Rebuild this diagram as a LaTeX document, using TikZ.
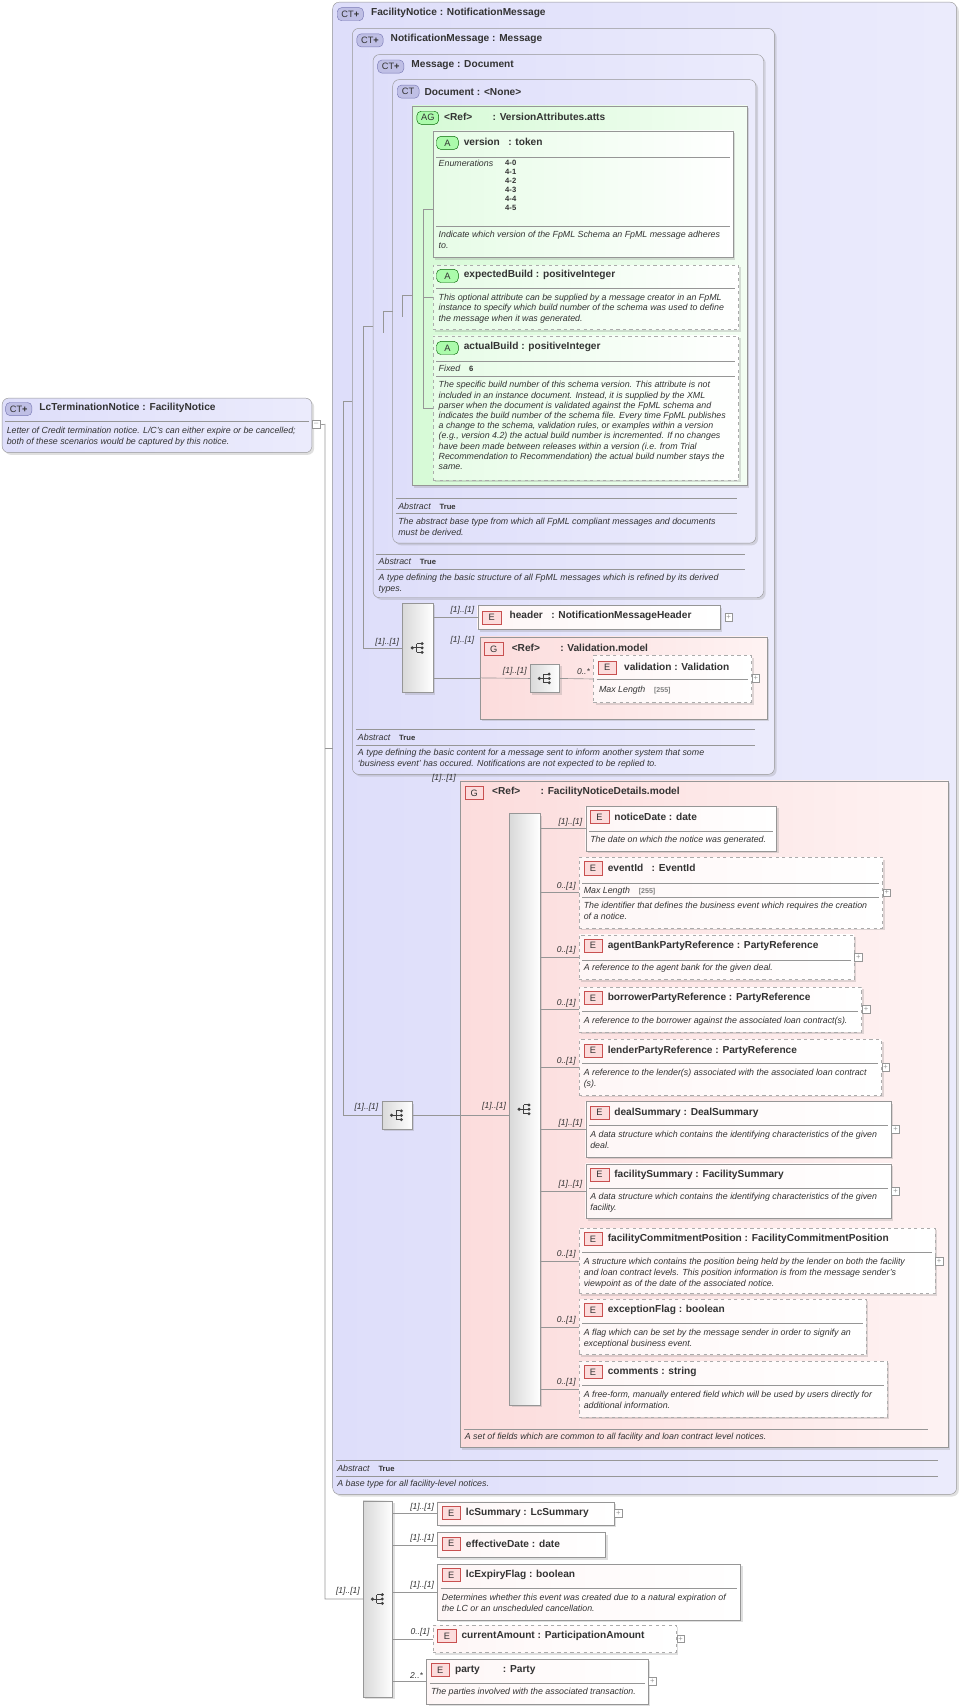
\documentclass[tikz,border=0pt]{standalone}
\usepackage{fontspec}
\setmainfont{Liberation Sans}
\usetikzlibrary{shadows}
\definecolor{lav}{RGB}{222,222,250}
\definecolor{lavd}{RGB}{120,120,180}
\definecolor{grn}{RGB}{214,250,214}
\definecolor{pnk}{RGB}{252,220,220}
\definecolor{pnkd}{RGB}{200,80,80}
\definecolor{ln}{RGB}{150,150,150}
\tikzset{
 base/.style={anchor=north west,inner sep=0pt,outer sep=0pt},
 ct/.style={base,draw=ln,rounded corners=6pt,left color=lav,right color=lav!60!white,drop shadow={opacity=.25,shadow xshift=2pt,shadow yshift=-2pt}},
 ag/.style={base,draw=ln,left color=grn,right color=grn!30!white,drop shadow={opacity=.25,shadow xshift=2pt,shadow yshift=-2pt}},
 gg/.style={base,draw=ln,left color=pnk,right color=pnk!35!white,drop shadow={opacity=.25,shadow xshift=2pt,shadow yshift=-2pt}},
 el/.style={base,draw=ln,left color=pnk!25!white,right color=white,drop shadow={opacity=.25,shadow xshift=2pt,shadow yshift=-2pt}},
 eld/.style={el,dashed,draw=ln!80},
 atb/.style={base,draw=ln,left color=grn!60!white,right color=white,drop shadow={opacity=.25,shadow xshift=2pt,shadow yshift=-2pt}},
 atd/.style={atb,dashed,draw=ln!80},
 sq/.style={base,draw=ln,left color=gray!30,right color=white,drop shadow={opacity=.25,shadow xshift=2pt,shadow yshift=-2pt}},
 ttl/.style={anchor=west,inner sep=0pt,font=\fontsize{9.3}{10}\selectfont\bfseries,text=black!80},
 dsc/.style={anchor=north west,inner sep=0pt,align=left,font=\fontsize{8.1}{10}\selectfont\itshape,text=black!80},
 dd/.style={dsc,yshift=-2pt},
 tru/.style={dsc,anchor=west},
 mul/.style={anchor=south east,inner sep=1pt,font=\fontsize{7.8}{8}\selectfont\itshape,text=black!80},
 con/.style={draw=ln,line width=.6pt},
 sep/.style={draw=ln,line width=.5pt},
 bdg/.style={anchor=west,inner sep=1pt,minimum height=12pt,minimum width=18pt,font=\fontsize{8.5}{9}\selectfont,text=black!80},
 pls/.style={draw=ln,fill=white,minimum size=7pt,inner sep=0pt,font=\fontsize{7}{7}\selectfont,text=ln},
}
\newcommand\TT{\quad\upshape\bfseries\fontsize{7}{8}\selectfont True}
\newcommand\bx[6]{\node[#6,minimum width={(#4-#2)*1pt},minimum height={(#5-#3)*1pt}] (#1) at (#2,#3) {};}
\newcommand\ctb[3]{\node[bdg,draw=lavd,fill=lav!70!lavd,rounded corners=4pt,minimum width=24pt] (#1) at (#2,#3) {CT\textbf{+}};}
\newcommand\eb[3]{\node[bdg,draw=pnkd,fill=pnk,minimum width=17pt] (#1) at ({#2},{#3}) {E};}
\newcommand\ab[3]{\node[bdg,draw=green!40!black,fill=grn!80!green,rounded corners=4pt,minimum width=20pt] (#1) at (#2,#3) {A};}
\newcommand\plus[3]{\node[pls] (#1) at ({#2},{#3}) {+};}
\newcommand\seqi[1]{%
 \fill[black!75] ([xshift=-5pt]#1.center) circle (1.6pt);
 \draw[black!75,line width=.8pt] ([xshift=-5pt]#1.center) -- ([xshift=-1pt]#1.center)
  ([xshift=-1pt,yshift=-4pt]#1.center) -- ([xshift=-1pt,yshift=4pt]#1.center)
  ([xshift=-1pt,yshift=-4pt]#1.center) -- ([xshift=3pt,yshift=-4pt]#1.center)
  ([xshift=-1pt]#1.center) -- ([xshift=3pt]#1.center)
  ([xshift=-1pt,yshift=4pt]#1.center) -- ([xshift=3pt,yshift=4pt]#1.center);
 \foreach \d in {-4,0,4}{\fill[black!75] ([xshift=4pt,yshift=\d pt]#1.center) circle (1.5pt);}}
\begin{document}
\begin{tikzpicture}[x=1pt,y=-1pt]
\useasboundingbox (0,0) rectangle (880,1565);
% ---------- LcTerminationNotice
\bx{lc}{2}{365}{286}{415}{ct}
\ctb{lcb}{5}{375}
\node[ttl] (lct) at (36,374) {LcTerminationNotice : FacilityNotice};
\draw[sep] (5,386) -- (283,386);
\node[dd] (lcd) at (6,389) {Letter of Credit termination notice. L/C's can either expire or be cancelled;\\both of these scenarios would be captured by this notice.};
% ---------- FacilityNotice
\bx{fn}{305}{2}{877}{1370}{ct}
\ctb{fnb}{309}{13}
\node[ttl] (fnt) at (340,12) {FacilityNotice : NotificationMessage};
\draw[sep] (308,1339) -- (860,1339) (308,1353) -- (860,1353);
\node[tru] (fna) at (309,1346) {Abstract\TT};
\node[dd] (fnd1) at (309,1355) {A base type for all facility-level notices.};
% NotificationMessage
\bx{nm}{323}{26}{710}{710}{ct}
\ctb{nmb}{327}{37}
\node[ttl] (nmt) at (358,36) {NotificationMessage : Message};
\draw[sep] (326,669) -- (692,669) (326,683) -- (692,683);
\node[tru] (nma) at (328,676) {Abstract\TT};
\node[dd] (nmd) at (328,685) {A type defining the basic content for a message sent to inform another system that some\\`business event' has occured. Notifications are not expected to be replied to.};
% Message
\bx{ms}{342}{50}{700}{548}{ct}
\ctb{msb}{346}{61}
\node[ttl] (mst) at (377,60) {Message : Document};
\draw[sep] (345,508) -- (683,508) (345,522) -- (683,522);
\node[tru] (msa) at (347,515) {Abstract\TT};
\node[dd] (msd) at (347,524) {A type defining the basic structure of all FpML messages which is refined by its derived\\types.};
% Document
\bx{dc}{360}{73}{693}{498}{ct}
\node[bdg,draw=lavd,fill=lav!70!lavd,rounded corners=4pt,minimum width=20pt] (dcb) at (364,84) {CT};
\node[ttl] (dct) at (389,84) {Document : <None>};
\draw[sep] (363,457) -- (676,457) (363,471) -- (676,471);
\node[tru] (dca) at (365,464) {Abstract\TT};
\node[dd] (dcd) at (365,473) {The abstract base type from which all FpML compliant messages and documents\\must be derived.};
% AG
\bx{ag}{378}{97}{685}{445}{ag}
\node[bdg,draw=green!40!black,fill=grn!80!green,rounded corners=4pt,minimum width=20pt] (agb) at (382,108) {AG};
\node[ttl] (agt) at (407,107) {<Ref>\qquad : VersionAttributes.atts};
% version
\bx{ver}{397}{120}{672}{236}{atb}
\ab{verb}{400}{131}
\node[ttl] (vert) at (425,130) {version ~ : token};
\draw[sep] (400,144) -- (669,144) (400,207) -- (669,207);
\node[dsc,anchor=north west] (vere) at (402,147) {Enumerations};
\node[inner sep=0pt,anchor=north west,align=left,font=\fontsize{7}{8.2}\selectfont\bfseries,text=black!80] (verv) at (463,147) {4-0\\4-1\\4-2\\4-3\\4-4\\4-5};
\node[dd] (verd) at (402,210) {Indicate which version of the FpML Schema an FpML message adheres\\to.};
% expectedBuild
\bx{ebx}{397}{243}{677}{302}{atd}
\ab{ebxb}{400}{253}
\node[ttl] (ebxt) at (425,252) {expectedBuild : positiveInteger};
\draw[sep] (400,264) -- (674,264);
\node[dd] (ebxd) at (402,267) {This optional attribute can be supplied by a message creator in an FpML\\instance to specify which build number of the schema was used to define\\the message when it was generated.};
% actualBuild
\bx{abx}{397}{308}{677}{440}{atd}
\ab{abxb}{400}{319}
\node[ttl] (abxt) at (425,318) {actualBuild : positiveInteger};
\draw[sep] (400,331) -- (674,331) (400,345) -- (674,345);
\node[tru] (abxf) at (402,338) {Fixed\quad\upshape\bfseries\fontsize{7}{8}\selectfont 6};
\node[dd,font=\fontsize{8.1}{9.35}\selectfont\itshape] (abxd) at (402,347.5) {The specific build number of this schema version. This attribute is not\\included in an instance document. Instead, it is supplied by the XML\\parser when the document is validated against the FpML schema and\\indicates the build number of the schema file. Every time FpML publishes\\a change to the schema, validation rules, or examples within a version\\(e.g., version 4.2) the actual build number is incremented. If no changes\\have been made between releases within a version (i.e. from Trial\\Recommendation to Recommendation) the actual build number stays the\\same.};
% AG connectors
\coordinate (agj) at (388,192);
\draw[con] (ver.west |- agj) -- (agj) -- (agj |- abx.west) -- (abx.west);
\draw[con] (agj |- ebx.west) -- (ebx.west);
\draw[con] (ag.west) -- ++(-9,0) -- ++(0,20);
\draw[con] (dc.west) -- ++(-9,0) -- ++(0,20);
\draw[con] (ms.west) -- ++(-9,0);
% NotificationMessage sequence
\bx{sqN}{369}{553}{397}{635}{sq}
\seqi{sqN}
\draw[con] (ms.west) ++(-9,0) |- (sqN.west);
\node[mul] (mN) at (367,594) {[1]..[1]};
\bx{hd}{438}{555}{660}{577}{el}
\eb{hdb}{442}{566}
\node[ttl] (hdt) at (467,565) {header ~ : NotificationMessageHeader};
\plus{hdp}{668}{566}
\draw[con] (sqN.east |- hd.west) -- (hd.west);
\node[mul] (mhd) at (436,564) {[1]..[1]};
\bx{vm}{440}{584}{703}{659}{gg}
\node[ttl] (vmt) at (469,594) {<Ref>\qquad : Validation.model};
\draw[con] (sqN.east |- vm.west) -- (vm.west);
\node[mul] (mvm) at (436,592) {[1]..[1]};
\node[bdg,draw=pnkd,fill=pnk,minimum width=17pt] (vmb) at (444,595) {G};
\bx{sqV}{486}{609}{513}{635}{sq}
\seqi{sqV}
\draw[con] (vm.west) -- (sqV.west);
\node[mul] (msV) at (484,620) {[1]..[1]};
\bx{vl}{544}{601}{689}{644}{eld}
\eb{vlb}{548}{612}
\node[ttl] (vlt) at (572,611) {validation : Validation};
\draw[sep] (547,623) -- (686,623);
\node[tru] (vlm) at (549,633) {Max Length\quad\upshape\bfseries\fontsize{6.5}{8}\selectfont\color{gray}[255]};
\plus{vlp}{693}{622}
\draw[con] (sqV.east) -- (vl.west);
\node[mul] (mvl) at (542,620) {0..*};
% FacilityNotice sequence
\bx{sqF}{350}{1010}{378}{1035}{sq}
\seqi{sqF}
\draw[con] (nm.west) -- ++(-8,0) |- (sqF.west);
\node[mul] (mF) at (348,1020) {[1]..[1]};
% FacilityNoticeDetails
\bx{fd}{422}{716}{869}{1327}{gg}
\node[bdg,draw=pnkd,fill=pnk,minimum width=17pt] (fdb) at (426,727) {G};
\node[ttl] (fdt) at (451,726) {<Ref>\qquad : FacilityNoticeDetails.model};
\node[mul] (mfd) at (419,718) {[1]..[1]};
\draw[sep] (425,1310) -- (851,1310);
\node[dd] (fdd) at (426,1312) {A set of fields which are common to all facility and loan contract level notices.};
\bx{sqD}{467}{746}{495}{1288}{sq}
\seqi{sqD}
\draw[con] (sqF.east) -- (sqD.west |- sqF.east);
\node[mul] (mD) at (465,1019) {[1]..[1]};
% elements in FacilityNoticeDetails
\newcommand\elm[9]{% name,x1,y1,x2,y2,style,title,mult,plus?
 \bx{#1}{#2}{#3}{#4}{#5}{#6}
 \eb{#1b}{#2+4}{#3+10}
 \node[ttl] (#1t) at ({#2+26},{#3+10}) {#7};
 \draw[con] (sqD.east |- #1.west) -- (#1.west);
 \node[mul] (#1m) at ({#2-2},{(#3+#5)/2-1}) {#8};
 \ifx#9y\plus{#1p}{#4+4}{(#3+#5)/2}\fi}
\elm{nd}{537}{739}{712}{780}{el}{noticeDate : date}{[1]..[1]}{n}
\draw[sep] (540,762) -- (709,762);
\node[dd] at (541,764) {The date on which the notice was generated.};
\elm{ev}{531}{786}{809}{851}{eld}{eventId ~ : EventId}{0..[1]}{y}
\draw[sep] (534,810) -- (806,810) (534,823) -- (806,823);
\node[tru] at (535,817) {Max Length\quad\upshape\bfseries\fontsize{6.5}{8}\selectfont\color{gray}[255]};
\node[dd] at (535,825) {The identifier that defines the business event which requires the creation\\of a notice.};
\elm{ag2}{531}{857}{783}{898}{eld}{agentBankPartyReference : PartyReference}{0..[1]}{y}
\draw[sep] (534,880) -- (780,880);
\node[dd] at (535,882) {A reference to the agent bank for the given deal.};
\elm{bp}{531}{905}{790}{946}{eld}{borrowerPartyReference : PartyReference}{0..[1]}{y}
\draw[sep] (534,927) -- (787,927);
\node[dd] at (535,930) {A reference to the borrower against the associated loan contract(s).};
\elm{lp}{531}{953}{808}{1004}{eld}{lenderPartyReference : PartyReference}{0..[1]}{y}
\draw[sep] (534,975) -- (805,975);
\node[dd] at (535,978) {A reference to the lender(s) associated with the associated loan contract\\(s).};
\elm{ds}{537}{1010}{817}{1061}{el}{dealSummary : DealSummary}{[1]..[1]}{y}
\draw[sep] (540,1032) -- (814,1032);
\node[dd] at (541,1035) {A data structure which contains the identifying characteristics of the given\\deal.};
\elm{fs}{537}{1067}{817}{1117}{el}{facilitySummary : FacilitySummary}{[1]..[1]}{y}
\draw[sep] (540,1089) -- (814,1089);
\node[dd] at (541,1092) {A data structure which contains the identifying characteristics of the given\\facility.};
\elm{fc}{531}{1126}{857}{1186}{eld}{facilityCommitmentPosition : FacilityCommitmentPosition}{0..[1]}{y}
\draw[sep] (534,1148) -- (854,1148);
\node[dd] at (535,1151) {A structure which contains the position being held by the lender on both the facility\\and loan contract levels. This position information is from the message sender's\\viewpoint as of the date of the associated notice.};
\elm{ef}{531}{1191}{794}{1242}{eld}{exceptionFlag : boolean}{0..[1]}{n}
\draw[sep] (534,1213) -- (791,1213);
\node[dd] at (535,1216) {A flag which can be set by the message sender in order to signify an\\exceptional business event.};
\elm{cm}{531}{1248}{813}{1299}{eld}{comments : string}{0..[1]}{n}
\draw[sep] (534,1270) -- (810,1270);
\node[dd] at (535,1273) {A free-form, manually entered field which will be used by users directly for\\additional information.};
% ---------- bottom sequence
\bx{sqB}{333}{1376}{360}{1556}{sq}
\seqi{sqB}
\coordinate (j0) at (298,389);
\draw[con] (lc.east) -- (j0) -- (j0 |- sqB.west) -- (sqB.west);
\draw[con] (j0 |- fn.west) -- (fn.west);
\node[pls] (lcp) at (290,389) {--};
\node[mul] (mB) at (331,1464) {[1]..[1]};
\renewcommand\elm[9]{%
 \bx{#1}{#2}{#3}{#4}{#5}{#6}
 \eb{#1b}{#2+4}{#3+10}
 \node[ttl] (#1t) at ({#2+26},{#3+10}) {#7};
 \draw[con] (sqB.east |- #1.west) -- (#1.west);
 \node[mul] (#1m) at ({#2-2},{(#3+#5)/2-1}) {#8};
 \ifx#9y\plus{#1p}{#4+4}{(#3+#5)/2}\fi}
\elm{ls}{401}{1377}{563}{1398}{el}{lcSummary : LcSummary}{[1]..[1]}{y}
\elm{ed}{401}{1405}{555}{1428}{el}{effectiveDate : date}{[1]..[1]}{n}
\elm{lx}{401}{1434}{679}{1485}{el}{lcExpiryFlag : boolean}{[1]..[1]}{n}
\draw[sep] (404,1456) -- (676,1456);
\node[dd] at (405,1459) {Determines whether this event was created due to a natural expiration of\\the LC or an unscheduled cancellation.};
\elm{ca}{397}{1490}{620}{1515}{eld}{currentAmount : ParticipationAmount}{0..[1]}{y}
\elm{pt}{391}{1521}{594}{1562}{el}{party \qquad : Party}{2..*}{y}
\draw[sep] (394,1543) -- (591,1543);
\node[dd] at (395,1545) {The parties involved with the associated transaction.};
\end{tikzpicture}
\end{document}
